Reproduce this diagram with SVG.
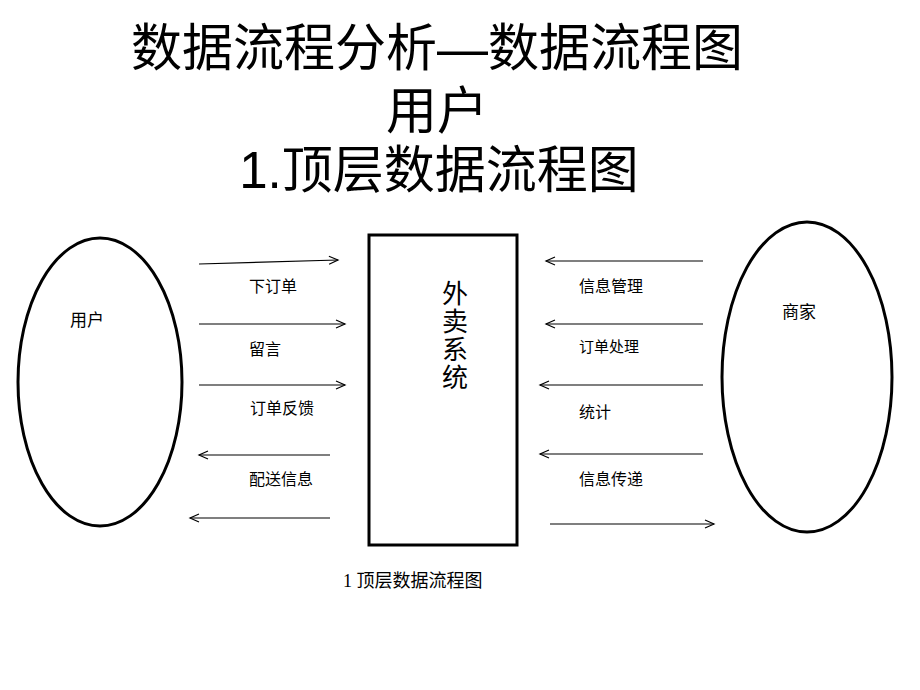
<svg xmlns="http://www.w3.org/2000/svg" width="920" height="690" viewBox="0 0 920 690">
<defs>
<style>
.t{font-family:"Liberation Sans","Noto Sans CJK SC",sans-serif;fill:#000}
.title{font-size:51px;text-anchor:middle}
.lbl{font-size:16px}
.ln{stroke:#000;stroke-width:1.2;fill:none;marker-end:url(#ah)}
.shape{fill:#fff;stroke:#000;stroke-width:3}
.cap{font-family:"Liberation Serif","Noto Sans CJK SC",serif;font-size:18px}
</style>
<marker id="ah" markerUnits="userSpaceOnUse" markerWidth="14" markerHeight="12" refX="11" refY="6" orient="auto">
<path d="M2,2 L11,6 L2,10" fill="none" stroke="#000" stroke-width="1.2"/>
</marker>
</defs>
<rect width="920" height="690" fill="#fff"/>
<g id="title">
<text class="t title" x="437" y="66">数据流程分析—数据流程图</text>
<text class="t title" x="437" y="129">用户</text>
<text class="t title" x="439" y="188">1.顶层数据流程图</text>
</g>
<g id="user">
<ellipse class="shape" cx="100" cy="382" rx="82" ry="144"/>
<text class="t" x="70" y="326" font-size="17">用户</text>
</g>
<g id="merchant">
<ellipse class="shape" cx="807" cy="377" rx="85" ry="155"/>
<text class="t" x="782" y="318" font-size="17">商家</text>
</g>
<g id="system">
<rect class="shape" x="369" y="235" width="148" height="310"/>
<g class="t" font-size="26" text-anchor="middle">
<text x="455" y="303">外</text>
<text x="455" y="331">卖</text>
<text x="455" y="359">系</text>
<text x="455" y="387">统</text>
</g>
</g>
<g id="connectors">
<path class="ln" d="M199,264 L338,260"/>
<path class="ln" d="M199,324 L345,324"/>
<path class="ln" d="M199,385 L345,385"/>
<path class="ln" d="M330,455 L199,455"/>
<path class="ln" d="M330,518 L190,518"/>
<path class="ln" d="M703,261 L546,261"/>
<path class="ln" d="M703,324 L546,324"/>
<path class="ln" d="M703,385 L540,385"/>
<path class="ln" d="M703,454 L540,454"/>
<path class="ln" d="M550,524 L714,524"/>
</g>
<g id="labels">
<text class="t lbl" x="249" y="292">下订单</text>
<text class="t lbl" x="249" y="355">留言</text>
<text class="t lbl" x="250" y="414">订单反馈</text>
<text class="t lbl" x="249" y="485">配送信息</text>
<text class="t lbl" x="579" y="292">信息管理</text>
<text class="t" x="579" y="352" font-size="15">订单处理</text>
<text class="t lbl" x="579" y="418">统计</text>
<text class="t lbl" x="579" y="485">信息传递</text>
</g>
<text class="cap" x="343" y="587">1 顶层数据流程图</text>
</svg>
